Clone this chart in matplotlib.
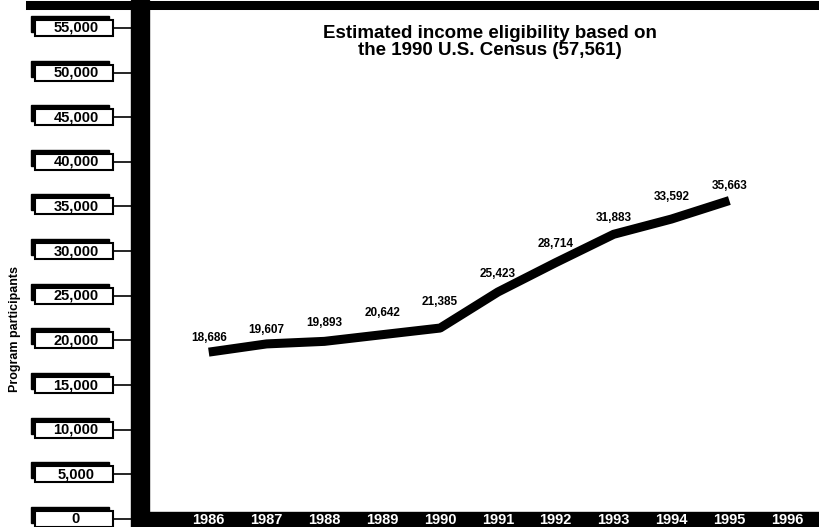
import numpy as np
import matplotlib as mpl
mpl.use('Agg')
from matplotlib import pyplot as plt
from matplotlib.patches import Rectangle
from matplotlib.transforms import blended_transform_factory

plt.rcParams['font.family'] = ['Liberation Sans', 'DejaVu Sans']
plt.rcParams['font.weight'] = 'bold'

years = [1986, 1987, 1988, 1989, 1990, 1991, 1992, 1993, 1994, 1995]
participants = [18686, 19607, 19893, 20642, 21385, 25423, 28714, 31883, 33592, 35663]
valueLabels = ['18,686', '19,607', '19,893', '20,642', '21,385',
               '25,423', '28,714', '31,883', '33,592', '35,663']
yearTicks = [1986, 1987, 1988, 1989, 1990, 1991, 1992, 1993, 1994, 1995, 1996]
yTicks = [0, 5000, 10000, 15000, 20000, 25000, 30000, 35000, 40000, 45000, 50000, 55000]
yTickLabels = ['0', '5,000', '10,000', '15,000', '20,000', '25,000', '30,000',
               '35,000', '40,000', '45,000', '50,000', '55,000']
eligible = 57561
title = 'Estimated income eligibility based on\nthe 1990 U.S. Census (57,561)'

# how far each value label sits above the line (pixels)
labelLift = [14, 14, 18, 22, 26, 18, 19, 16, 22, 15]

W, H = 819, 527
fig = plt.figure(figsize=(W / 100, H / 100), dpi=100)
axLeft = 148
ax = fig.add_axes([axLeft / W, 0, 1 - axLeft / W, 1])
axW = W - axLeft
ax.set_xlim(1984.95, 1996.55)
zeroPx = 519
pxPerUnit = (zeroPx - 5) / eligible
ax.set_ylim(-(H - zeroPx) / pxPerUnit, zeroPx / pxPerUnit)
for s in ax.spines.values():
    s.set_visible(False)

# main line
ax.plot(years, participants, color='black', lw=6.5, solid_capstyle='butt',
        solid_joinstyle='round', zorder=4)
for x, v, lab, lift in zip(years, participants, valueLabels, labelLift):
    ax.annotate(lab, (x, v), xytext=(0, lift * 0.72), textcoords='offset points',
                ha='center', va='center', fontsize=8.5, fontweight='bold')

# eligibility line at top
ax.axhline(eligible, xmin=(30 - axLeft) / axW, xmax=1, color='black', lw=6.5,
           clip_on=False)

# left bar and bottom bar
ax.add_patch(Rectangle(((131 - axLeft) / axW, 0), 18 / axW, 1, transform=ax.transAxes,
                       color='black', clip_on=False, zorder=1))
ax.add_patch(Rectangle((0, 0), 1, (H - 512) / H, transform=ax.transAxes,
                       color='black', clip_on=False, zorder=1))

# year labels inside the bottom bar
ax.set_xticks(yearTicks)
ax.set_xticklabels([str(y) for y in yearTicks])
ax.tick_params(axis='x', length=0, pad=-10, labelcolor='white', labelsize=10.5)
for t in ax.get_xticklabels():
    t.set_fontweight('bold')

# y tick boxes with shadow
ax.set_yticks([])
trans = blended_transform_factory(ax.transAxes, ax.transData)
boxL, boxR = (35 - axLeft) / axW, (113 - axLeft) / axW
boxH = 16 / pxPerUnit
sh = 4 / axW
shY = 4 / pxPerUnit
for v, lab in zip(yTicks, yTickLabels):
    ax.add_patch(Rectangle((boxL - sh, v - boxH / 2 + shY), boxR - boxL, boxH,
                           transform=trans, color='black', clip_on=False))
    ax.add_patch(Rectangle((boxL, v - boxH / 2), boxR - boxL, boxH, transform=trans,
                           fc='white', ec='black', lw=1.5, clip_on=False))
    ax.text((boxL + boxR) / 2 + 2 / axW, v, lab, transform=trans, ha='center',
            va='center', fontsize=10.5, fontweight='bold')
    ax.plot([boxR, (131 - axLeft) / axW], [v, v], transform=trans, color='black',
            lw=1.2, clip_on=False)

fig.text(15 / W, 1 - 329 / H, 'Program participants', rotation=90, ha='center',
         va='center', fontsize=9, fontweight='bold')
fig.text(490 / W, 1 - 42 / H, title, ha='center', va='center', fontsize=13.5,
         fontweight='bold', linespacing=1.0)

fig.savefig('out.png', dpi=100)
